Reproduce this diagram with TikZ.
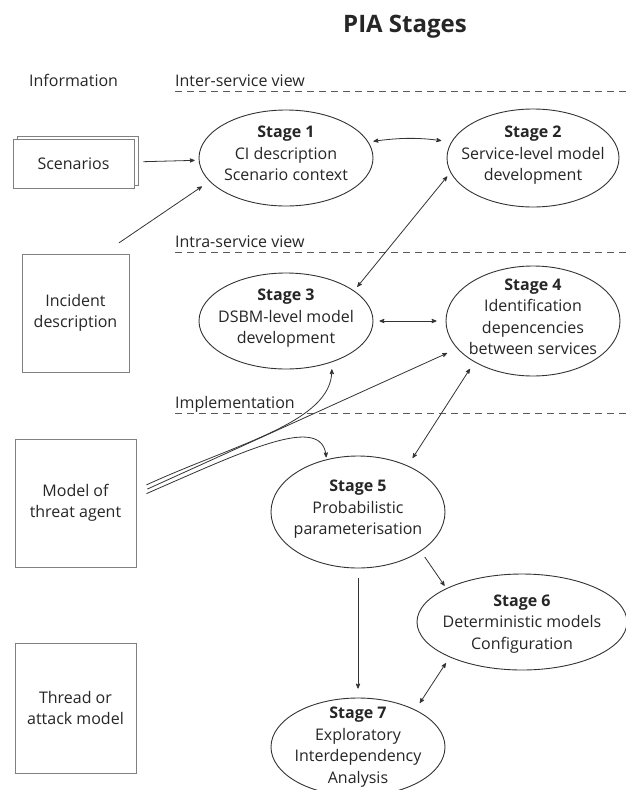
\documentclass[tikz,border=0pt]{standalone}
\usepackage{fontspec}
\setmainfont{Open Sans}
\usetikzlibrary{positioning, arrows, shapes.geometric, shadows}

% extra depth under the last line of a stage label
\newcommand{\lastdp}{\rule[-9pt]{0pt}{9pt}}

\begin{document}
\begin{tikzpicture}[x=1pt,y=1pt,>=stealth',node distance=247pt,
                    every node/.style={font=\fontsize{16}{21.5}\selectfont,text=black!85},
                    stage node/.style={ellipse,draw=black!80,fill=white,line width=0.9pt,
                                       inner sep=-12pt,align=center},
                    info box/.style={rectangle,draw=black!50,fill=white,line width=0.9pt,align=center},
                    link/.style={black!80,line width=0.8pt},
                    sep/.style={draw=black!65,line width=0.9pt,dash pattern=on 7pt off 5pt}]
        \useasboundingbox (0,0) rectangle (626,-790);

        % headings and view separators
        \node[anchor=base west,inner sep=0,font=\bfseries\fontsize{24}{28}\selectfont] (title) at (343,-32) {PIA Stages};
        \node[anchor=base west,inner sep=0] (info) at (29,-86) {Information};
        \node[anchor=base west,inner sep=0] (inter) at (175,-86) {Inter-service view};
        \node[anchor=base west,inner sep=0] (intra) at (175,-247) {Intra-service view};
        \node[anchor=base west,inner sep=0] (impl) at (175,-408) {Implementation};
        \draw[sep] (175,-91) -- (626,-91);
        \draw[sep] (175,-252) -- (626,-252);
        \draw[sep] (175,-413) -- (626,-413);

        % information sources
        \node[info box,minimum width=121pt,minimum height=49pt,
              copy shadow={shadow xshift=4pt,shadow yshift=3pt,draw=black!50}] (scen) at (73.5,-163.5) {Scenarios};
        \node[info box,minimum width=107pt,minimum height=118pt] (inc) at (75.5,-313) {Incident\\description};
        \node[info box,minimum width=121pt,minimum height=128pt] (threat) at (75.5,-503) {Model of\\threat agent};
        \node[info box,minimum width=121pt,minimum height=130pt] (attack) at (75.5,-708) {Thread or\\attack model};

        % stages
        \node[stage node,minimum width=174pt,minimum height=96pt] (1) at (286,-158) {\textbf{Stage 1}\\CI description\\Scenario context\lastdp};
        \node[stage node,minimum width=172pt,minimum height=98pt] (2) [right of=1] {\textbf{Stage 2}\\Service-level model\\development\lastdp};
        \node[stage node,minimum width=174pt,minimum height=96pt,node distance=163pt] (3) [below of=1] {\textbf{Stage 3}\\DSBM-level model\\development\lastdp};
        \node[stage node,minimum width=174pt,minimum height=110pt] (4) [right of=3] {\textbf{Stage 4}\\Identification\\depencencies\\between services\lastdp};
        \node[stage node,minimum width=174pt,minimum height=112pt] (5) at (358,-512) {\textbf{Stage 5}\\Probabilistic\\parameterisation\lastdp};
        \node[stage node,minimum width=210pt,minimum height=96pt] (6) at (522,-622) {\rule{0pt}{15pt}\textbf{Stage 6}\\Deterministic models\\Configuration};
        \node[stage node,minimum width=174pt,minimum height=98pt] (7) at (358,-747) {\textbf{Stage 7}\\Exploratory\\Interdependency\\Analysis};

        \path[->,link]
            (scen) edge[shorten <=9pt,shorten >=4pt] (1)
            (inc.65) edge[shorten <=19pt,shorten >=9pt] (1.197)
            (5) edge[shorten <=10pt,shorten >=9pt] (7)
            (5.328) edge[shorten <=7pt,shorten >=3pt] (6.156);

        % the threat agent model feeds stages 3, 4 and 5
        \draw[->,link,shorten <=11pt,shorten >=7pt] ([yshift=13.5pt]threat.east)
            .. controls +(100,46) and +(0,-60) .. (3.318);
        \draw[->,link,shorten <=12pt,shorten >=11pt] ([yshift=9pt]threat.east) -- (4.200);
        \draw[->,link,shorten <=11pt,shorten >=2pt] ([yshift=5pt]threat.east)
            .. controls +(110,48) and +(-4,46) .. (5.121);

        \path[<->,link]
            (1.11) edge[bend left=8,shorten <=5pt,shorten >=10pt] (2.169)
            (2.190) edge[shorten <=5pt,shorten >=5pt] (3.24)
            (3) edge[shorten <=6pt,shorten >=9pt] (4)
            (4.215) edge[shorten <=8pt,shorten >=9pt] (5.43)
            (6.206) edge[shorten <=7pt,shorten >=8pt] (7.33);
\end{tikzpicture}
\end{document}
